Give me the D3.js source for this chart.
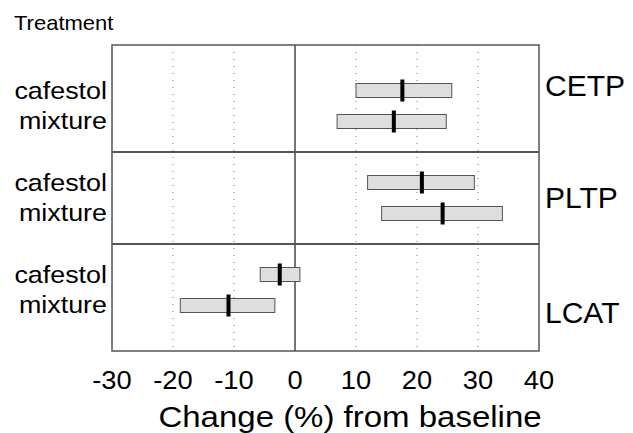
<!DOCTYPE html>
<html>
<head>
<meta charset="utf-8">
<script src="https://cdn.jsdelivr.net/npm/d3@7"></script>
<style>
  body { margin: 0; background: #fff; }
  text { font-family: "Liberation Sans", Arial, sans-serif; fill: #000; }
</style>
</head>
<body>
<svg id="chart" width="633" height="433"></svg>
<script>
// data
const enzymes = ["CETP", "PLTP", "LCAT"];
const treatments = ["cafestol", "mixture"];
const lows    = [[10.0, 6.9], [11.9, 14.2], [-5.7, -18.8]];
const medians = [[17.6, 16.2], [20.8, 24.2], [-2.5, -10.9]];
const highs   = [[25.7, 24.8], [29.4, 34.0], [0.8, -3.3]];
const ticks = [-30, -20, -10, 0, 10, 20, 30, 40];

const rows = [];
enzymes.forEach((e, i) => treatments.forEach((t, j) => {
  rows.push({ enzyme: e, treatment: t, lo: lows[i][j], med: medians[i][j], hi: highs[i][j] });
}));

const svg = d3.select("#chart");
const plotTop = 45, plotBottom = 351, plotLeft = 112, plotRight = 539;

const x = d3.scaleLinear().domain([-30, 40]).range([plotLeft, plotRight]);
const yOuter = d3.scaleBand().domain(enzymes).range([plotTop + 15, plotBottom - 15]);
const yInner = d3.scalePoint().domain(treatments).range([0, yOuter.bandwidth()]).padding(0.984);
const yRow = d => yOuter(d.enzyme) + yInner(d.treatment);

// stretched text helper (the original type is wide)
function label(x0, y0, str, size, sx, anchor) {
  svg.append("text")
    .attr("transform", `translate(${x0},${y0}) scale(${sx},1)`)
    .attr("text-anchor", anchor)
    .attr("font-size", size)
    .text(str);
}

// dotted grid
svg.append("g").selectAll("line")
  .data(ticks.filter(t => t !== 0 && t !== -30 && t !== 40))
  .enter().append("line")
  .attr("x1", d => x(d)).attr("x2", d => x(d))
  .attr("y1", plotTop).attr("y2", plotBottom)
  .attr("stroke", "#777").attr("stroke-width", 1)
  .attr("stroke-dasharray", "1,6");

// zero line
svg.append("line")
  .attr("x1", x(0)).attr("x2", x(0)).attr("y1", plotTop).attr("y2", plotBottom)
  .attr("stroke", "#444").attr("stroke-width", 1.5);

// panel separators
svg.append("g").selectAll("line")
  .data(enzymes.slice(1))
  .enter().append("line")
  .attr("x1", plotLeft).attr("x2", plotRight)
  .attr("y1", d => yOuter(d)).attr("y2", d => yOuter(d))
  .attr("stroke", "#555").attr("stroke-width", 1.8);

// frame
svg.append("rect")
  .attr("x", plotLeft).attr("y", plotTop)
  .attr("width", plotRight - plotLeft).attr("height", plotBottom - plotTop)
  .attr("fill", "none").attr("stroke", "#555").attr("stroke-width", 1.5);

// range boxes
svg.append("g").selectAll("rect")
  .data(rows)
  .enter().append("rect")
  .attr("x", d => x(d.lo))
  .attr("width", d => x(d.hi) - x(d.lo))
  .attr("y", d => yRow(d) - 7)
  .attr("height", 14)
  .attr("fill", "#dedede")
  .attr("stroke", "#555").attr("stroke-width", 1);

// medians
svg.append("g").selectAll("line")
  .data(rows)
  .enter().append("line")
  .attr("x1", d => x(d.med)).attr("x2", d => x(d.med))
  .attr("y1", d => yRow(d) - 11).attr("y2", d => yRow(d) + 11)
  .attr("stroke", "#000").attr("stroke-width", 4);

// left labels
rows.forEach(d => label(107, yRow(d) + 8, d.treatment, 24, 1.12, "end"));

// right labels
label(545, yOuter("CETP") + yInner("cafestol") + 5, "CETP", 30, 1, "start");
label(545, yOuter("PLTP") + yOuter.bandwidth() / 2 + 10, "PLTP", 30, 1, "start");
label(545, yOuter("LCAT") + yInner("mixture") + 18, "LCAT", 30, 1, "start");

// header
label(14, 30, "Treatment", 20, 1.1, "start");

// x tick labels
ticks.forEach(t => label(x(t), 389, t, 26, 1.05, "middle"));

// x title
label(350, 427, "Change (%) from baseline", 30, 1.1, "middle");
</script>
</body>
</html>
